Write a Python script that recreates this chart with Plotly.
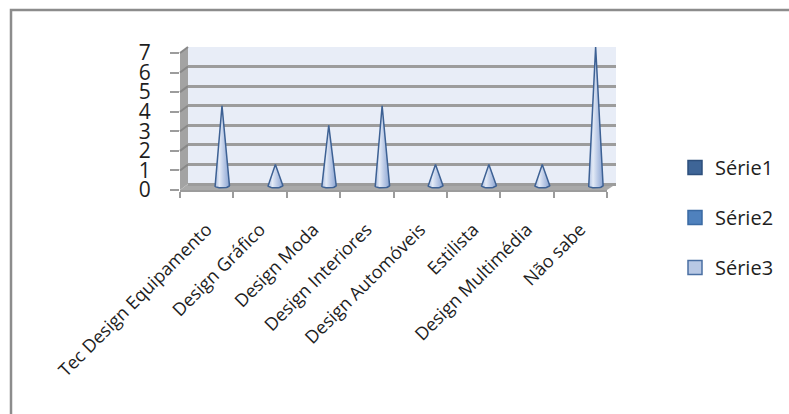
import numpy as np
import plotly.graph_objects as go

# ---- data -------------------------------------------------------------
categories = ["Tec Design Equipamento", "Design Gráfico", "Design Moda",
              "Design Interiores", "Design Automóveis", "Estilista",
              "Design Multimédia", "Não sabe"]
serie3 = [4, 1, 3, 4, 1, 1, 1, 7]
series_names = ["Série1", "Série2", "Série3"]
y_ticks = [0, 1, 2, 3, 4, 5, 6, 7]

# ---- page geometry (pixels -> paper fractions, zero margins) ----------
W, H = 789, 414


def px(x):
    return x / W


def py(y):
    return 1 - y / H


FONT = "Open Sans"
TEXT = "#1e1e1e"
GRID = "#9c9c9c"
WALL = "#e8edf7"
SIDE = "#a3a3a3"
FLOOR = "#a9a9a9"

# back wall (plot area of the cones) and front plane (axes with labels)
BACK_L, BACK_R, BACK_T, BACK_B = 188, 616, 46, 190
FRONT_L, FRONT_R, FRONT_T, FRONT_B = 180, 607, 53, 190
FLOOR_BACK = 184          # y pixel of value 0 on the back wall

unit_px = (FRONT_B - FRONT_T) / 7.0
step = (FRONT_R - FRONT_L) / len(categories)
cone0 = 222               # centre of the first cone row in depth

x_min = -(cone0 - BACK_L) / step
x_max = (BACK_R - cone0) / step
y_top = 7 + (FLOOR_BACK - 7 * unit_px - BACK_T) / unit_px
y_bot = -(BACK_B - FLOOR_BACK) / unit_px

fig = go.Figure()

# cones for Série3 (base ellipse sits slightly in front of the back floor edge)
w, h, base = 0.14, 0.12, -0.08
t = np.linspace(np.pi, 2 * np.pi, 17)
cone_scale = [[0.0, "#a9bce0"], [0.3, "#e3eaf6"], [0.6, "#bccbe7"], [1.0, "#8aa4d2"]]
for i, v in enumerate(serie3):
    xs = [i] + list(i + w * np.cos(t)) + [i]
    ys = [v] + list(base + h * np.sin(t)) + [v]
    fig.add_trace(go.Scatter(
        x=xs, y=ys, mode="lines", fill="toself",
        fillgradient=dict(type="horizontal", colorscale=cone_scale),
        line=dict(color="#3d6194", width=1.5),
        showlegend=False, hoverinfo="skip", xaxis="x", yaxis="y"))

# legend entries
legend_fill = ["#3e6597", "#4f81bd", "#b8c8e4"]
legend_line = ["#2d4f7c", "#3a6aa3", "#4a6fa2"]
for name, fc, lc in zip(series_names, legend_fill, legend_line):
    fig.add_trace(go.Scatter(
        x=[None], y=[None], mode="markers", name=name, legendgroup=name,
        marker=dict(symbol="square", size=14, color=fc, line=dict(color=lc, width=1.5)),
        xaxis="x", yaxis="y"))

# carrier trace for the front category / value axes
fig.add_trace(go.Scatter(x=[None], y=[None], showlegend=False, hoverinfo="skip",
                         xaxis="x2", yaxis="y2"))

shapes = []
# back wall
shapes.append(dict(type="rect", xref="paper", yref="paper", layer="below",
                   x0=px(BACK_L), x1=px(BACK_R), y0=py(FLOOR_BACK), y1=py(BACK_T + 1),
                   fillcolor=WALL, line=dict(width=0)))
# side wall
shapes.append(dict(type="path", xref="paper", yref="paper", layer="below",
                   path=f"M {px(FRONT_L)},{py(FRONT_B)} L {px(FRONT_L)},{py(FRONT_T)} "
                        f"L {px(BACK_L)},{py(BACK_T + 1)} L {px(BACK_L)},{py(FLOOR_BACK)} Z",
                   fillcolor=SIDE, line=dict(width=0)))
# floor
shapes.append(dict(type="path", xref="paper", yref="paper", layer="below",
                   path=f"M {px(FRONT_L)},{py(FRONT_B)} L {px(BACK_L)},{py(FLOOR_BACK)} "
                        f"L {px(BACK_R)},{py(FLOOR_BACK)} L {px(FRONT_R)},{py(FRONT_B)} Z",
                   fillcolor=FLOOR, line=dict(width=0)))
# grid lines continued on the side wall
for v in y_ticks[1:]:
    yf = FRONT_B - v * unit_px
    yb = FLOOR_BACK - v * unit_px
    shapes.append(dict(type="line", xref="paper", yref="paper", layer="below",
                       x0=px(FRONT_L), y0=py(yf), x1=px(BACK_L), y1=py(yb),
                       line=dict(color="#888888", width=2)))
# outer frame (left and top edges)
shapes.append(dict(type="path", xref="paper", yref="paper", layer="above",
                   path=f"M {px(11)},0 L {px(11)},{py(10)} L 1,{py(10)}",
                   line=dict(color="#8c8c8c", width=2.5)))

fig.update_layout(
    width=W, height=H,
    margin=dict(l=0, r=0, t=0, b=0, autoexpand=False),
    paper_bgcolor="white", plot_bgcolor="rgba(0,0,0,0)",
    font=dict(family=FONT, color=TEXT),
    showlegend=True,
    legend=dict(x=px(675), y=py(148), xanchor="left", yanchor="top",
                font=dict(size=20, family=FONT, color=TEXT),
                tracegroupgap=21, bgcolor="rgba(0,0,0,0)", itemwidth=30),
    xaxis=dict(domain=[px(BACK_L), px(BACK_R)], range=[x_min, x_max], automargin=False,
               showgrid=False, zeroline=False, showticklabels=False, ticks=""),
    yaxis=dict(domain=[py(BACK_B), py(BACK_T)], range=[y_bot, y_top], automargin=False,
               tickvals=y_ticks, showgrid=True, gridcolor=GRID, gridwidth=2.5,
               zeroline=False, showticklabels=False, ticks="", anchor="x"),
    xaxis2=dict(domain=[px(FRONT_L), px(FRONT_R)], range=[-0.5, len(categories) - 0.5],
                anchor="y2", automargin=False,
                tickvals=list(range(len(categories))), ticktext=categories,
                tickangle=-45, ticks="", showgrid=False, zeroline=False,
                showline=True, linecolor=GRID, linewidth=2,
                tickfont=dict(size=18, family=FONT, color=TEXT),
                ticklabelstandoff=20,
                minor=dict(tickvals=[k - 0.5 for k in range(len(categories) + 1)],
                           ticks="outside", ticklen=6, tickcolor=GRID, tickwidth=2)),
    yaxis2=dict(domain=[py(FRONT_B), py(FRONT_T)], range=[0, 7], anchor="x2",
                automargin=False,
                tickvals=y_ticks, ticks="outside", ticklen=9, tickcolor=GRID, tickwidth=2,
                showgrid=False, zeroline=False, showline=False,
                tickfont=dict(size=21, family=FONT, color=TEXT),
                ticklabelstandoff=15),
    shapes=shapes,
)

fig.write_html("out.html")
